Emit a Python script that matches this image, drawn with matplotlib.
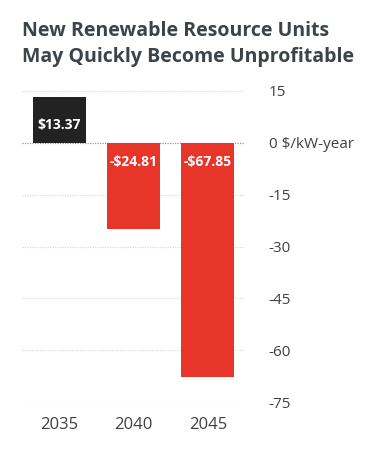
import matplotlib.pyplot as plt
import numpy as np

years = ["2035", "2040", "2045"]
values = [13.37, -24.81, -67.85]
labels = ["$13.37", "-$24.81", "-$67.85"]
yticks = [15, 0, -15, -30, -45, -60, -75]
ytick_labels = ["15", "0 $/kW-year", "-15", "-30", "-45", "-60", "-75"]

plt.rcParams['font.family'] = ['Open Sans', 'DejaVu Sans']

fig = plt.figure(figsize=(3.77, 4.53), dpi=100)
ax = fig.add_axes([22 / 377, 1 - 402 / 453, 223 / 377, 311 / 453])

x = np.arange(len(years))
colors = ["#222222" if v > 0 else "#e8352a" for v in values]
ax.bar(x, values, width=0.71, color=colors, zorder=3)

# value labels sit just inside each bar, next to the zero line
for xi, v, lab in zip(x, values, labels):
    off = 18 if v > 0 else -19
    ax.annotate(lab, (xi, 0), xytext=(0, off), textcoords="offset pixels",
                ha="center", va="center", color="white", fontsize=10, fontweight="bold", zorder=4)

ax.set_xlim(-0.5, 2.5)
ax.set_ylim(-75, 15)
for t in yticks:
    if t == 0:
        ax.axhline(t, color="#999999", lw=0.9, ls=(0, (1, 1)), zorder=2)
    else:
        ax.axhline(t, color="#dddddd", lw=0.9, ls=(0, (1, 1)), zorder=1)

ax.yaxis.tick_right()
ax.set_yticks(yticks)
ax.set_yticklabels(ytick_labels, color="#404040", fontsize=11)
ax.tick_params(axis="y", length=0, pad=17)
ax.set_xticks(x)
ax.set_xticklabels(years, color="#404040", fontsize=12)
ax.tick_params(axis="x", length=0, pad=11)
for s in ax.spines.values():
    s.set_visible(False)

fig.text(22 / 377, 1 - 21 / 453, "New Renewable Resource Units\nMay Quickly Become Unprofitable",
         ha="left", va="top", fontsize=14, fontweight="bold", color="#3b4448", linespacing=1.4)

fig.savefig("out.png", dpi=100)
